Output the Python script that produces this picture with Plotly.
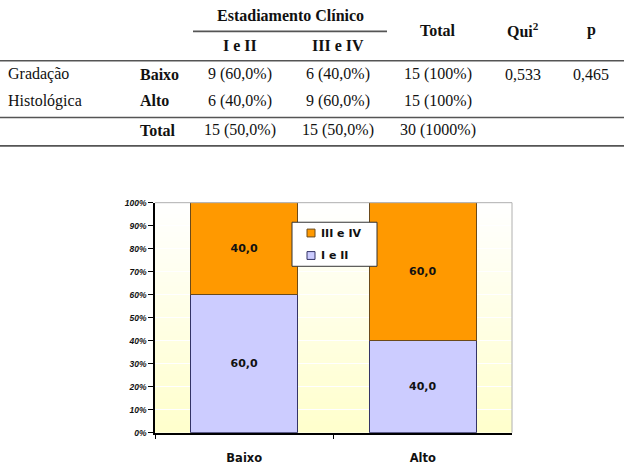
import base64
import struct
import zlib

import plotly.graph_objects as go

W, H = 634, 467

# ---------------- data ----------------
categories = ["Baixo", "Alto"]
serie_I_II = [60.0, 40.0]
serie_III_IV = [40.0, 60.0]
serie_names = ["I e II", "III e IV"]
y_ticks = [0, 10, 20, 30, 40, 50, 60, 70, 80, 90, 100]

# table content
tab_group_header = "Estadiamento Clínico"
tab_col_headers = ["I e II", "III e IV"]
tab_other_headers = ["Total", "Qui<sup>2</sup>", "p"]
tab_row_group = ["Gradação", "Histológica"]
tab_row_labels = ["Baixo", "Alto", "Total"]
tab_col_I_II = ["9 (60,0%)", "6 (40,0%)", "15 (50,0%)"]
tab_col_III_IV = ["6 (40,0%)", "9 (60,0%)", "15 (50,0%)"]
tab_col_total = ["15 (100%)", "15 (100%)", "30 (1000%)"]
tab_qui2 = ["0,533", "", ""]
tab_p = ["0,465", "", ""]


def px(x):
    return x / W


def py(y):
    return 1 - y / H


def gradient_png(h, top, bottom):
    rows = b""
    for i in range(h):
        t = i / (h - 1)
        c = [round(top[k] + (bottom[k] - top[k]) * t) for k in range(3)]
        rows += b"\x00" + bytes(c)

    def chunk(tag, data):
        return (struct.pack(">I", len(data)) + tag + data
                + struct.pack(">I", zlib.crc32(tag + data) & 0xFFFFFFFF))

    ihdr = struct.pack(">IIBBBBB", 1, h, 8, 2, 0, 0, 0)
    png = (b"\x89PNG\r\n\x1a\n" + chunk(b"IHDR", ihdr)
           + chunk(b"IDAT", zlib.compress(rows)) + chunk(b"IEND", b""))
    return "data:image/png;base64," + base64.b64encode(png).decode()


def fmt(v):
    return f"{v:.1f}".replace(".", ",")


ORANGE = "#FF9900"
LAVENDER = "#CCCCFF"
ORANGE_EDGE = "#6b4a1a"
LAV_EDGE = "#333366"
BAR_FONT = dict(family="DejaVu Sans", size=11, color="#111111", weight="bold")

fig = go.Figure()
fig.add_trace(go.Bar(
    x=categories, y=serie_I_II, name=serie_names[0],
    marker=dict(color=LAVENDER, line=dict(color=LAV_EDGE, width=1)),
    text=[fmt(v) for v in serie_I_II], textposition="inside",
    insidetextanchor="middle", textangle=0, textfont=BAR_FONT,
    showlegend=False, hoverinfo="skip",
))
fig.add_trace(go.Bar(
    x=categories, y=serie_III_IV, name=serie_names[1],
    marker=dict(color=ORANGE, line=dict(color=ORANGE_EDGE, width=1)),
    text=[fmt(v) for v in serie_III_IV], textposition="inside",
    insidetextanchor="middle", textangle=0, textfont=BAR_FONT,
    showlegend=False, hoverinfo="skip",
))

# ---------------- table annotations ----------------
ann = []
SERIF = "Liberation Serif"
TXT = "#111111"
FS = 16
DY = -2  # visual centring correction


def add_text(text, x, y, anchor="center", bold=False, size=FS):
    ann.append(dict(
        text=text, x=px(x), y=py(y + DY), xref="paper", yref="paper",
        xanchor=anchor, yanchor="middle", showarrow=False,
        font=dict(family=SERIF, size=size, color=TXT,
                  weight="bold" if bold else "normal"),
    ))


col_x = [240, 338, 438, 523, 591]
row_y = [73, 100, 130]

add_text(tab_group_header, 290, 13, bold=True)
add_text(tab_col_headers[0], col_x[0], 43, bold=True)
add_text(tab_col_headers[1], col_x[1], 43, bold=True)
add_text(tab_other_headers[0], col_x[2], 28, bold=True)
add_text(tab_other_headers[1], col_x[3], 28, bold=True)
add_text(tab_other_headers[2], col_x[4], 28, bold=True)
add_text(tab_row_group[0], 6, row_y[0], anchor="left")
add_text(tab_row_group[1], 6, row_y[1], anchor="left")
for i, lab in enumerate(tab_row_labels):
    add_text(lab, 138, row_y[i], anchor="left", bold=True)
    for j, col in enumerate([tab_col_I_II, tab_col_III_IV, tab_col_total,
                             tab_qui2, tab_p]):
        if col[i]:
            add_text(col[i], col_x[j], row_y[i])

shapes = []
LINE_C = "#555555"
for (x0, x1, y) in [(193, 387, 27), (0, 624, 57), (0, 624, 115), (0, 624, 144)]:
    shapes.append(dict(type="line", xref="paper", yref="paper",
                       x0=px(x0), x1=px(x1), y0=py(y), y1=py(y),
                       line=dict(color=LINE_C, width=1.6)))

# gray plot-area border (top & right)
shapes.append(dict(type="line", xref="x domain", yref="y domain",
                   x0=0, x1=1, y0=1, y1=1, layer="above",
                   line=dict(color="#b0b0b0", width=1)))
shapes.append(dict(type="line", xref="x domain", yref="y domain",
                   x0=1, x1=1, y0=0, y1=1, layer="above",
                   line=dict(color="#b0b0b0", width=1)))

# ---------------- legend (drawn box) ----------------
LEG_X0, LEG_Y0, LEG_X1, LEG_Y1 = 292, 222, 377, 267
shapes.append(dict(type="rect", xref="paper", yref="paper", layer="above",
                   x0=px(LEG_X0), x1=px(LEG_X1), y0=py(LEG_Y1), y1=py(LEG_Y0),
                   fillcolor="white", line=dict(color="#333333", width=1)))
legend_items = [(serie_names[1], ORANGE, ORANGE_EDGE, 233),
                (serie_names[0], LAVENDER, LAV_EDGE, 256)]
for name, col, edge, yc in legend_items:
    shapes.append(dict(type="rect", xref="paper", yref="paper", layer="above",
                       x0=px(307), x1=px(315), y0=py(yc + 4), y1=py(yc - 4),
                       fillcolor=col, line=dict(color=edge, width=1)))
    ann.append(dict(
        text=name, x=px(319), y=py(yc), xref="paper", yref="paper",
        xanchor="left", yanchor="middle", showarrow=False,
        font=dict(family="DejaVu Sans", size=11, color="#111111",
                  weight="bold"),
    ))

fig.update_layout(
    width=W, height=H,
    margin=dict(l=0, r=0, t=0, b=0),
    paper_bgcolor="white",
    plot_bgcolor="rgba(0,0,0,0)",
    barmode="stack",
    bargap=0.40,
    annotations=ann,
    shapes=shapes,
    images=[dict(
        source=gradient_png(200, (255, 255, 255), (255, 255, 204)),
        xref="x domain", yref="y domain", x=0, y=1, sizex=1, sizey=1,
        xanchor="left", yanchor="top", sizing="stretch", layer="below",
    )],
    showlegend=False,
    xaxis=dict(
        domain=[px(155), px(512)],
        type="category", range=[-0.5, 1.5],
        showgrid=False, showline=True, linecolor="black", linewidth=1.5,
        ticks="outside", tickson="boundaries", ticklen=5,
        tickcolor="black", tickwidth=1.2,
        ticklabelstandoff=14,
        tickfont=dict(family="DejaVu Sans", size=11.5, color="#111111",
                      weight="bold"),
        fixedrange=True,
    ),
    yaxis=dict(
        domain=[py(437), py(202)],
        range=[0, 100], tickvals=y_ticks,
        ticktext=[f"{v}%" for v in y_ticks],
        showgrid=True, gridcolor="white", gridwidth=1,
        zeroline=False,
        showline=True, linecolor="black", linewidth=1.5,
        ticks="outside", ticklen=5, tickcolor="black", tickwidth=1.2,
        tickfont=dict(family="Liberation Sans", size=8.5, color="#111111",
                      weight="bold", style="italic"),
        fixedrange=True,
    ),
)

fig.write_html(
    "out.html",
    config={"displayModeBar": False},
    post_script="document.body.style.margin='0';document.body.style.overflow='hidden';",
)
